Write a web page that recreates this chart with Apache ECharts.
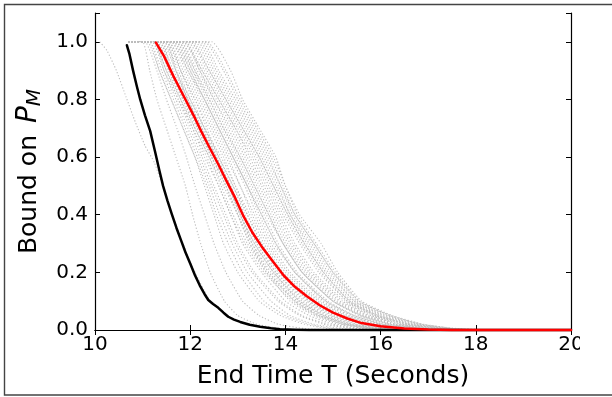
<!DOCTYPE html>
<html>
<head>
<meta charset="utf-8">
<script src="https://cdn.jsdelivr.net/npm/echarts@6.0.0/dist/echarts.min.js"></script>
<style>
html,body{margin:0;padding:0;background:#fff;}
#chart{width:612px;height:397px;}
</style>
</head>
<body>
<div id="chart"></div>
<script>
// ---- data ----
const xTicks = [10, 12, 14, 16, 18, 20];
const yTicks = [0.0, 0.2, 0.4, 0.6, 0.8, 1.0];

// black curve
const blackX = [10.67, 10.72, 10.8, 10.88, 10.95, 11.05, 11.16, 11.26, 11.35, 11.43, 11.52, 11.61, 11.71, 11.81, 11.9, 12.0, 12.1, 12.2, 12.3, 12.38, 12.48, 12.59, 12.7, 12.8, 12.92, 13.05, 13.25, 13.47, 13.7, 13.89, 14.2, 14.5, 20];
const blackY = [0.988, 0.96, 0.90, 0.845, 0.80, 0.745, 0.69, 0.62, 0.555, 0.50, 0.45, 0.404, 0.355, 0.31, 0.27, 0.231, 0.19, 0.155, 0.125, 0.104, 0.09, 0.077, 0.06, 0.046, 0.036, 0.028, 0.018, 0.011, 0.006, 0.003, 0.001, 0, 0];

// red curve
const redX = [11.28, 11.45, 11.65, 11.9, 12.1, 12.23, 12.4, 12.59, 12.77, 12.94, 13.12, 13.3, 13.5, 13.75, 13.96, 14.2, 14.45, 14.73, 15.0, 15.3, 15.6, 16.0, 16.5, 17.0, 17.5, 20];
const redY = [0.997, 0.95, 0.88, 0.80, 0.735, 0.69, 0.635, 0.575, 0.515, 0.46, 0.395, 0.34, 0.29, 0.235, 0.19, 0.15, 0.117, 0.085, 0.06, 0.04, 0.024, 0.013, 0.005, 0.0015, 0, 0];

// gray dotted curves: x position at which each run reaches the given level
const grayLevels = [1.0, 0.9, 0.8, 0.7, 0.6, 0.5, 0.4, 0.3, 0.2, 0.1, 0.05, 0.02, 0.005, 0];
const grayStartX = 10.7;
const grayRuns = [
  [11.0, 11.15, 11.3, 11.5, 11.7, 11.9, 12.05, 12.22, 12.42, 12.72, 13.0, 13.4, 13.9, 14.5],
  [11.05, 11.3, 11.5, 11.72, 11.92, 12.1, 12.3, 12.5, 12.75, 13.1, 13.45, 13.85, 14.4, 15.0],
  [11.1, 11.35, 11.6, 11.85, 12.1, 12.35, 12.55, 12.8, 13.1, 13.55, 14.0, 14.5, 15.0, 15.6],
  [11.15, 11.4, 11.65, 11.9, 12.15, 12.4, 12.62, 12.88, 13.2, 13.7, 14.1, 14.6, 15.2, 15.8],
  [11.2, 11.5, 11.75, 12.0, 12.25, 12.5, 12.75, 13.0, 13.35, 13.9, 14.35, 14.9, 15.5, 16.1],
  [11.25, 11.45, 11.7, 11.95, 12.2, 12.45, 12.7, 12.95, 13.3, 13.85, 14.3, 14.8, 15.4, 16.0],
  [11.3, 11.55, 11.8, 12.05, 12.35, 12.6, 12.85, 13.15, 13.55, 14.15, 14.65, 15.2, 15.8, 16.5],
  [11.35, 11.65, 11.95, 12.25, 12.55, 12.85, 13.1, 13.4, 13.8, 14.4, 14.9, 15.45, 16.1, 16.8],
  [11.4, 11.6, 11.85, 12.1, 12.4, 12.7, 13.0, 13.3, 13.7, 14.3, 14.8, 15.3, 15.9, 16.6],
  [11.45, 11.75, 12.0, 12.3, 12.6, 12.9, 13.15, 13.45, 13.85, 14.5, 15.0, 15.6, 16.2, 16.9],
  [11.5, 11.8, 12.1, 12.4, 12.7, 12.95, 13.2, 13.5, 13.9, 14.55, 15.1, 15.7, 16.3, 17.0],
  [11.55, 11.8, 12.05, 12.3, 12.55, 12.8, 13.05, 13.3, 13.65, 14.2, 14.7, 15.2, 15.8, 16.4],
  [11.6, 11.9, 12.2, 12.5, 12.8, 13.05, 13.3, 13.6, 14.0, 14.65, 15.2, 15.8, 16.4, 17.1],
  [11.65, 11.95, 12.25, 12.55, 12.85, 13.15, 13.4, 13.7, 14.1, 14.75, 15.3, 15.9, 16.5, 17.2],
  [11.7, 12.0, 12.3, 12.6, 12.9, 13.2, 13.45, 13.75, 14.2, 14.85, 15.4, 16.0, 16.7, 17.4],
  [11.75, 12.05, 12.35, 12.65, 12.95, 13.25, 13.55, 13.85, 14.25, 14.9, 15.45, 16.05, 16.8, 17.5],
  [11.8, 12.1, 12.4, 12.7, 13.0, 13.3, 13.6, 13.95, 14.35, 15.0, 15.55, 16.15, 16.9, 17.6],
  [11.85, 12.2, 12.5, 12.85, 13.15, 13.45, 13.75, 14.05, 14.45, 15.1, 15.7, 16.3, 17.0, 17.7],
  [11.9, 12.25, 12.6, 12.95, 13.25, 13.55, 13.85, 14.15, 14.55, 15.2, 15.8, 16.4, 17.1, 17.8],
  [11.95, 12.3, 12.65, 13.0, 13.35, 13.65, 13.95, 14.3, 14.7, 15.3, 15.9, 16.5, 17.2, 17.9],
  [12.0, 12.4, 12.75, 13.1, 13.45, 13.75, 14.05, 14.4, 14.8, 15.35, 15.95, 16.6, 17.3, 18.0],
  [12.1, 12.45, 12.8, 13.15, 13.5, 13.8, 14.1, 14.45, 14.85, 15.4, 16.0, 16.65, 17.35, 18.0],
  [12.2, 12.55, 12.9, 13.25, 13.6, 13.9, 14.15, 14.55, 14.95, 15.45, 16.1, 16.75, 17.4, 18.1],
  [12.3, 12.7, 13.0, 13.35, 13.7, 13.95, 14.2, 14.6, 15.0, 15.55, 16.2, 16.85, 17.5, 18.2],
  [12.45, 12.85, 13.1, 13.45, 13.8, 14.0, 14.3, 14.75, 15.1, 15.6, 16.25, 16.9, 17.6, 18.3],
  [11.2, 11.45, 11.75, 12.05, 12.3, 12.6, 12.85, 13.1, 13.5, 14.0, 14.5, 15.0, 15.6, 16.2],
  [11.5, 11.7, 11.95, 12.2, 12.45, 12.75, 13.0, 13.25, 13.6, 14.1, 14.6, 15.1, 15.7, 16.3],
  [11.3, 11.6, 11.9, 12.15, 12.45, 12.75, 13.0, 13.25, 13.65, 14.25, 14.75, 15.3, 15.9, 16.5],
  [11.3, 11.55, 11.85, 12.15, 12.45, 12.8, 13.05, 13.35, 13.75, 14.35, 14.85, 15.4, 16.0, 16.7],
  [11.4, 11.7, 12.0, 12.3, 12.65, 12.95, 13.25, 13.55, 13.95, 14.6, 15.15, 15.75, 16.4, 17.1],
  [11.45, 11.7, 11.95, 12.25, 12.55, 12.85, 13.1, 13.4, 13.8, 14.45, 14.95, 15.5, 16.1, 16.8],
  [11.55, 11.85, 12.15, 12.45, 12.75, 13.05, 13.35, 13.65, 14.05, 14.7, 15.25, 15.85, 16.5, 17.2],
  [11.6, 11.95, 12.3, 12.6, 12.9, 13.2, 13.5, 13.8, 14.2, 14.8, 15.35, 15.95, 16.6, 17.3],
  [11.7, 12.05, 12.4, 12.7, 13.05, 13.35, 13.65, 13.95, 14.35, 15.0, 15.6, 16.2, 16.9, 17.6],
  [11.8, 12.15, 12.5, 12.8, 13.1, 13.4, 13.7, 14.0, 14.4, 15.05, 15.65, 16.25, 16.95, 17.6],
  [11.9, 12.2, 12.55, 12.9, 13.2, 13.5, 13.8, 14.1, 14.5, 15.15, 15.75, 16.35, 17.05, 17.7],
  [12.0, 12.35, 12.7, 13.05, 13.4, 13.7, 14.0, 14.35, 14.75, 15.3, 15.9, 16.55, 17.25, 17.9],
  [12.15, 12.5, 12.85, 13.2, 13.55, 13.85, 14.1, 14.5, 14.9, 15.45, 16.05, 16.7, 17.4, 18.1],
  [12.25, 12.6, 12.95, 13.3, 13.65, 13.9, 14.2, 14.6, 15.0, 15.5, 16.15, 16.8, 17.5, 18.2],
  [12.35, 12.75, 13.05, 13.4, 13.75, 14.0, 14.25, 14.65, 15.05, 15.55, 16.2, 16.85, 17.55, 18.2],
  [11.15, 11.35, 11.6, 11.85, 12.1, 12.3, 12.5, 12.7, 13.0, 13.45, 13.9, 14.4, 14.9, 15.5],
  [11.25, 11.5, 11.8, 12.1, 12.4, 12.65, 12.9, 13.2, 13.6, 14.2, 14.7, 15.25, 15.85, 16.5],
  [11.35, 11.6, 11.9, 12.2, 12.5, 12.8, 13.05, 13.35, 13.75, 14.3, 14.8, 15.35, 15.95, 16.6],
  [11.5, 11.8, 12.1, 12.35, 12.6, 12.9, 13.2, 13.5, 13.9, 14.5, 15.05, 15.6, 16.2, 16.9],
  [11.65, 12.0, 12.3, 12.6, 12.9, 13.2, 13.5, 13.8, 14.2, 14.85, 15.45, 16.05, 16.75, 17.4],
  [11.75, 12.1, 12.45, 12.75, 13.05, 13.35, 13.65, 13.95, 14.35, 15.0, 15.6, 16.2, 16.9, 17.6],
  [11.85, 12.25, 12.6, 12.95, 13.3, 13.6, 13.9, 14.2, 14.6, 15.25, 15.85, 16.45, 17.15, 17.8],
  [12.05, 12.4, 12.75, 13.1, 13.45, 13.75, 14.05, 14.4, 14.8, 15.35, 15.95, 16.6, 17.3, 18.0]
];
// faint dotted run left of the black curve
const outlierX = [10.1, 10.25, 10.45, 10.65, 10.85, 11.05, 11.25, 11.42, 11.6, 11.8, 12.0, 12.4, 12.8, 13.4, 14.0];
const outlierY = [1.0, 0.97, 0.9, 0.81, 0.72, 0.64, 0.58, 0.5, 0.41, 0.32, 0.235, 0.105, 0.047, 0.012, 0];

// ---- build chart ----
const FONT = 'DejaVu Sans';
const zip = (xs, ys) => xs.map((x, i) => [x, ys[i]]);

const series = [];
const grayStyle = { color: '#bdbdbd', width: 1.1, type: [1.2, 2.0] };
grayRuns.forEach(run => {
  const pts = [[grayStartX, grayLevels[0]]].concat(zip(run, grayLevels));
  series.push({ type: 'line', data: pts, symbol: 'none', clip: false,
    smooth: 0.15, lineStyle: grayStyle, silent: true, z: 2 });
});
series.push({ type: 'line', data: zip(outlierX, outlierY), symbol: 'none', clip: false,
  smooth: 0.15, lineStyle: grayStyle, silent: true, z: 2 });
series.push({ type: 'line', data: zip(blackX, blackY), symbol: 'none', clip: false,
  smooth: false, lineStyle: { color: '#000', width: 2.5, join: 'round', cap: 'round' }, z: 3 });
series.push({ type: 'line', data: zip(redX, redY), symbol: 'none', clip: false,
  smooth: false, lineStyle: { color: '#ff0000', width: 2.5, join: 'round', cap: 'round' }, z: 4 });

const tickStyle = { show: true, inside: true, length: 5, lineStyle: { color: '#000', width: 1 } };
const lineStyle = { show: true, lineStyle: { color: '#000', width: 1.2 } };

const chart = echarts.init(document.getElementById('chart'), null, { renderer: 'canvas' });
chart.setOption({
  animation: false,
  backgroundColor: '#fff',
  grid: { left: 95, right: 41, top: 13, bottom: 67, containLabel: false },
  xAxis: [
    { type: 'value', position: 'bottom', min: xTicks[0], max: xTicks[xTicks.length - 1], interval: 2,
      axisLine: lineStyle, axisTick: tickStyle, splitLine: { show: false },
      axisLabel: { fontFamily: FONT, fontSize: 20, color: '#000', margin: 5 },
      name: 'End Time T (Seconds)', nameLocation: 'middle', nameGap: 34,
      nameTextStyle: { fontFamily: FONT, fontSize: 25, color: '#000' } },
    { type: 'value', position: 'top', min: xTicks[0], max: xTicks[xTicks.length - 1], interval: 2,
      axisLine: lineStyle, axisTick: tickStyle, splitLine: { show: false }, axisLabel: { show: false } }
  ],
  yAxis: [
    { type: 'value', position: 'left', min: yTicks[0], max: 1.1, interval: 0.2,
      axisLine: lineStyle, axisTick: tickStyle, splitLine: { show: false },
      axisLabel: { fontFamily: FONT, fontSize: 20, color: '#000', margin: 7,
        formatter: v => (v > 1.05 ? '' : v.toFixed(1)) },
      name: '{a|Bound on }{p|P}{m|M}', nameLocation: 'middle', nameGap: 50, nameRotate: 90,
      nameTextStyle: { fontFamily: FONT, fontSize: 25, color: '#000',
        rich: {
          a: { fontFamily: FONT, fontSize: 25, color: '#000', lineHeight: 32, padding: [0, 4, 0, 0] },
          p: { fontFamily: FONT, fontSize: 28, fontStyle: 'italic', color: '#000', lineHeight: 32 },
          m: { fontFamily: FONT, fontSize: 20, fontStyle: 'italic', color: '#000', lineHeight: 20, verticalAlign: 'bottom' }
        } } },
    { type: 'value', position: 'right', min: yTicks[0], max: 1.1, interval: 0.2,
      axisLine: lineStyle, axisTick: tickStyle, splitLine: { show: false }, axisLabel: { show: false } }
  ],
  series: series,
  graphic: [
    { type: 'rect', silent: true, z: 100, shape: { x: 580, y: 333, width: 30, height: 26 }, style: { fill: '#fff' } },
    { type: 'rect', silent: true, z: 101, shape: { x: 4.5, y: 4.5, width: 640, height: 390.5 },
      style: { fill: 'none', stroke: '#444', lineWidth: 1.4 } }
  ]
});
</script>
</body>
</html>
